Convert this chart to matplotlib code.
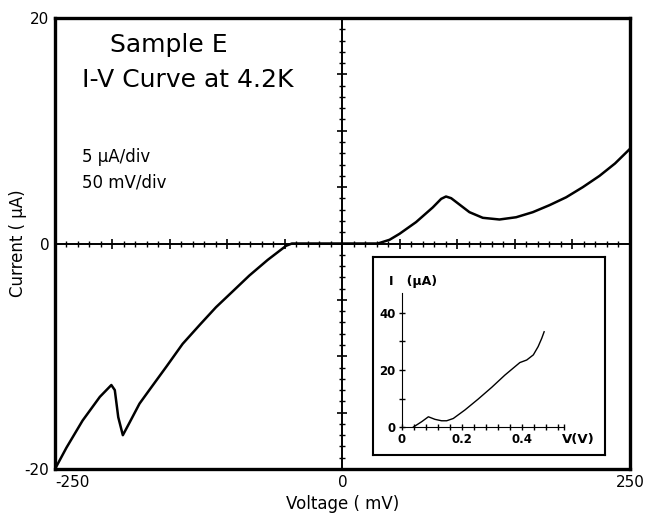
import matplotlib
matplotlib.use("Agg")
import matplotlib.pyplot as plt
from matplotlib.ticker import MultipleLocator, FixedLocator, NullFormatter

# main I-V curve (mV, uA)
voltage_mv = [-250, -240, -226, -211, -201, -198, -195, -191, -185, -176.5,
              -168, -153, -139, -124, -110, -95, -81, -65, -49, -44,
              0, 30.7, 40.9, 49.6, 64, 78.5, 85.8, 90, 94.5, 99,
              110.4, 122, 136.5, 151, 165.5, 180, 194.5, 209, 223.5, 237, 250]
current_ua = [-20, -18.1, -15.7, -13.6, -12.55, -13.0, -15.4, -17.0, -15.85, -14.2,
              -13.0, -10.9, -8.9, -7.2, -5.65, -4.2, -2.84, -1.45, -0.2, 0,
              0, 0, 0.33, 0.86, 1.9, 3.2, 3.96, 4.17, 4.02, 3.67,
              2.78, 2.28, 2.13, 2.33, 2.78, 3.4, 4.1, 5.0, 6.0, 7.1, 8.4]

# inset curve (V, uA)
inset_v = [0.038, 0.066, 0.088, 0.11, 0.132, 0.149, 0.171, 0.21, 0.254,
           0.299, 0.343, 0.393, 0.416, 0.438, 0.454, 0.466, 0.474]
inset_i = [0, 1.9, 3.6, 2.7, 2.2, 2.2, 3.0, 6.0, 9.8,
           13.9, 18.2, 22.6, 23.5, 25.3, 28.2, 31.1, 33.4]

main_xticks = [-250, 0, 250]
main_xlabels = ["-250", "0", "250"]
main_yticks = [-20, 0, 20]
main_ylabels = ["-20", "0", "20"]
inset_xticks = [0, 0.2, 0.4]
inset_xlabels = ["0", "0.2", "0.4"]
inset_yticks = [0, 20, 40]
inset_ylabels = ["0", "20", "40"]

plt.rcParams['font.family'] = ['DejaVu Sans']

fig = plt.figure(figsize=(6.47, 5.19), dpi=100)
pos = [0.085, 0.0963, 0.8887, 0.869]

# outer frame with the corner labels
ax_frame = fig.add_axes(pos)
ax_frame.set_xlim(-250, 250)
ax_frame.set_ylim(-20, 20)
for s in ax_frame.spines.values():
    s.set_linewidth(2.4)
ax_frame.set_xticks(main_xticks, main_xlabels, fontsize=11)
ax_frame.set_yticks(main_yticks, main_ylabels, fontsize=11)
ax_frame.tick_params(length=0, pad=4)
ax_frame.get_xticklabels()[0].set_horizontalalignment('left')
ax_frame.set_xlabel("Voltage ( mV)", fontsize=12, labelpad=4)
ax_frame.set_ylabel("Current ( μA)", fontsize=12, va='center')
ax_frame.yaxis.set_label_coords(-0.064, 0.5)

# crossing axes through the origin + data
ax = fig.add_axes(pos)
ax.set_facecolor('none')
ax.set_xlim(-250, 250)
ax.set_ylim(-20, 20)
ax.spines['top'].set_visible(False)
ax.spines['right'].set_visible(False)
ax.spines['left'].set_position(('data', 0))
ax.spines['bottom'].set_position(('data', 0))
ax.spines['left'].set_linewidth(1.4)
ax.spines['bottom'].set_linewidth(1.4)
ax.xaxis.set_major_locator(MultipleLocator(50))
ax.xaxis.set_minor_locator(MultipleLocator(10))
ax.yaxis.set_major_locator(MultipleLocator(5))
ax.yaxis.set_minor_locator(MultipleLocator(1))
ax.xaxis.set_major_formatter(NullFormatter())
ax.yaxis.set_major_formatter(NullFormatter())
ax.tick_params(which='major', direction='inout', length=7, width=1.2)
ax.tick_params(which='minor', direction='inout', length=4, width=1.0)
ax.plot(voltage_mv, current_ua, color='black', lw=1.8, solid_joinstyle='round')

ax.text(0.0957, 0.94, "Sample E", transform=ax.transAxes, fontsize=18, va='center')
ax.text(0.047, 0.8625, "I-V Curve at 4.2K", transform=ax.transAxes, fontsize=18, va='center')
ax.text(0.047, 0.692, "5 μA/div", transform=ax.transAxes, fontsize=12, va='center')
ax.text(0.047, 0.636, "50 mV/div", transform=ax.transAxes, fontsize=12, va='center')

# inset
ipos = [0.5765, 0.1233, 0.3586, 0.3815]
ax_box = fig.add_axes(ipos)
ax_box.set_xticks([])
ax_box.set_yticks([])
for s in ax_box.spines.values():
    s.set_linewidth(1.5)

ax_in = fig.add_axes(ipos)
ax_in.set_facecolor('none')
ax_in.set_xlim(-0.0967, 0.677)
ax_in.set_ylim(-9.8, 59.6)
ax_in.spines['top'].set_visible(False)
ax_in.spines['right'].set_visible(False)
ax_in.spines['left'].set_position(('data', 0))
ax_in.spines['bottom'].set_position(('data', 0))
ax_in.spines['left'].set_bounds(0, 47)
ax_in.spines['bottom'].set_bounds(0, 0.54)
ax_in.set_xticks(inset_xticks, inset_xlabels, fontsize=8.5, fontweight='bold')
ax_in.set_yticks(inset_yticks, inset_ylabels, fontsize=8.5, fontweight='bold')
ax_in.xaxis.set_minor_locator(FixedLocator([0.04 * k for k in range(1, 14)] + [0.54]))
ax_in.yaxis.set_minor_locator(FixedLocator([10, 30]))
ax_in.tick_params(which='both', direction='inout', length=5, width=1.0, pad=2)
ax_in.plot(inset_v, inset_i, color='black', lw=1.0)
ax_in.text(0.07, 0.874, "I   (μA)", transform=ax_in.transAxes, fontsize=9,
           fontweight='bold', va='center')
ax_in.text(0.815, 0.076, "V(V)", transform=ax_in.transAxes, fontsize=9.5,
           fontweight='bold', va='center')

fig.savefig("out.png", dpi=100, facecolor='white')
